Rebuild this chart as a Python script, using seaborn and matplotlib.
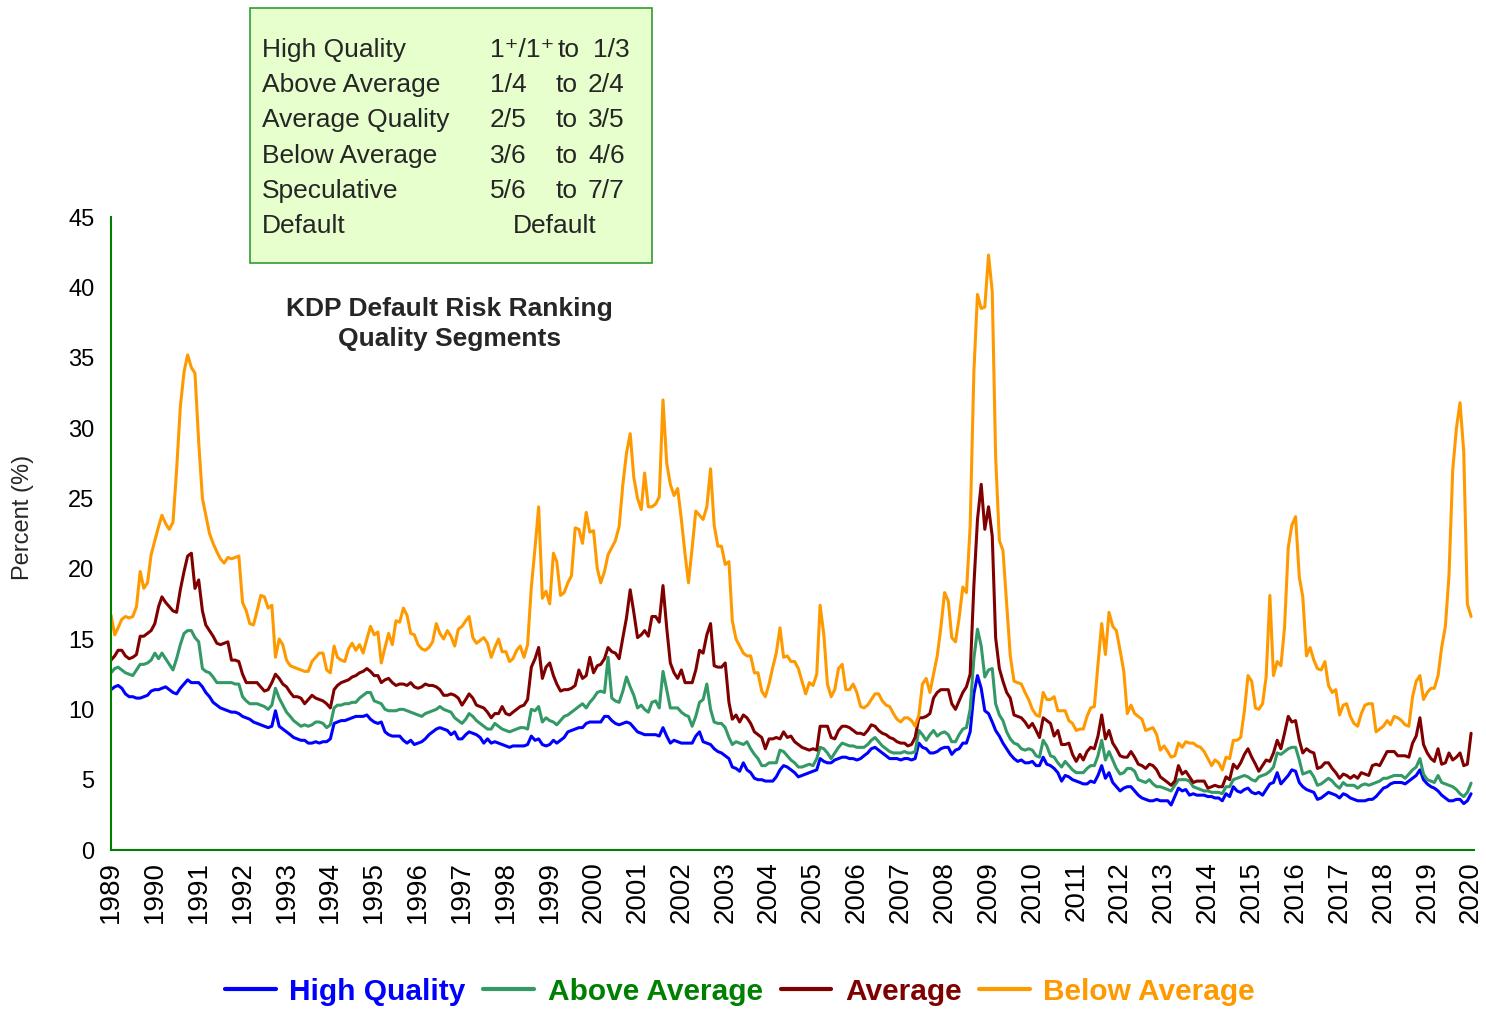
import pandas as pd
import seaborn as sns
import matplotlib.pyplot as plt
import matplotlib.dates as mdates
from matplotlib.lines import Line2D
from matplotlib.patches import Rectangle

# monthly default rates (%), Jan 1989 .. Jan 2020, one row per year
high_quality = [
    11.4, 11.6, 11.7, 11.5, 11.1, 10.9, 10.9, 10.8, 10.8, 10.9, 11.0, 11.3,
    11.4, 11.4, 11.5, 11.6, 11.4, 11.2, 11.1, 11.5, 11.8, 12.1, 11.9, 11.9,
    11.9, 11.6, 11.2, 10.9, 10.5, 10.3, 10.1, 10.0, 9.9, 9.8, 9.8, 9.7,
    9.5, 9.4, 9.3, 9.1, 9.0, 8.9, 8.8, 8.7, 8.8, 9.9, 8.8, 8.6,
    8.4, 8.2, 8.0, 7.9, 7.8, 7.8, 7.6, 7.6, 7.7, 7.6, 7.7, 7.7,
    7.9, 9.0, 9.1, 9.2, 9.2, 9.3, 9.4, 9.5, 9.5, 9.5, 9.6, 9.3,
    9.1, 9.0, 9.1, 8.4, 8.2, 8.1, 8.1, 8.1, 7.8, 7.6, 7.8, 7.5,
    7.6, 7.7, 7.9, 8.2, 8.4, 8.6, 8.7, 8.6, 8.5, 8.2, 8.4, 7.9,
    7.9, 8.2, 8.4, 8.3, 8.2, 8.0, 7.6, 7.9, 7.6, 7.7, 7.6, 7.5,
    7.4, 7.3, 7.4, 7.4, 7.4, 7.4, 7.5, 8.1, 7.8, 7.9, 7.5, 7.4,
    7.5, 7.8, 7.6, 7.8, 8.0, 8.4, 8.5, 8.6, 8.7, 8.7, 9.0, 9.1,
    9.1, 9.1, 9.1, 9.5, 9.5, 9.2, 9.0, 8.9, 9.0, 9.1, 9.0, 8.7,
    8.4, 8.3, 8.2, 8.2, 8.2, 8.2, 8.1, 8.7, 8.1, 7.6, 7.8, 7.7,
    7.6, 7.6, 7.6, 7.6, 8.1, 8.4, 7.7, 7.6, 7.5, 7.2, 7.0, 6.9,
    6.7, 6.5, 5.9, 5.8, 5.6, 6.2, 5.7, 5.5, 5.1, 5.0, 5.0, 4.9,
    4.9, 4.9, 5.2, 5.7, 6.0, 5.9, 5.7, 5.5, 5.2, 5.3, 5.4, 5.5,
    5.6, 5.7, 6.5, 6.3, 6.2, 6.2, 6.4, 6.5, 6.6, 6.6, 6.5, 6.5,
    6.4, 6.5, 6.7, 6.9, 7.2, 7.3, 7.1, 6.9, 6.7, 6.5, 6.5, 6.5,
    6.4, 6.5, 6.5, 6.4, 6.5, 7.6, 7.3, 7.2, 6.9, 6.9, 7.0, 7.2,
    7.3, 7.3, 6.8, 7.1, 7.2, 7.6, 7.6, 8.4, 11.1, 12.4, 11.5, 9.9,
    9.7, 9.1, 8.5, 8.1, 7.6, 7.2, 6.8, 6.5, 6.3, 6.4, 6.2, 6.2,
    6.3, 6.0, 6.0, 6.6, 6.1, 6.0, 5.8, 5.5, 4.9, 5.3, 5.2, 5.0,
    4.9, 4.8, 4.7, 4.7, 4.9, 4.8, 5.3, 6.0, 5.1, 5.5, 4.8, 4.5,
    4.2, 4.4, 4.5, 4.5, 4.2, 3.9, 3.7, 3.6, 3.5, 3.5, 3.6, 3.5,
    3.5, 3.5, 3.2, 3.8, 4.4, 4.2, 4.3, 3.9, 4.0, 3.9, 3.9, 3.9,
    3.8, 3.8, 3.7, 3.7, 3.5, 4.0, 3.8, 4.5, 4.2, 4.1, 4.3, 4.4,
    4.1, 4.0, 4.1, 3.9, 4.3, 4.7, 4.8, 5.5, 4.7, 5.0, 5.3, 5.7,
    5.6, 4.8, 4.5, 4.3, 4.2, 4.1, 3.6, 3.7, 3.9, 4.1, 4.0, 3.9,
    3.7, 4.0, 3.9, 3.7, 3.6, 3.5, 3.5, 3.5, 3.6, 3.6, 3.8, 4.1,
    4.4, 4.5, 4.7, 4.8, 4.8, 4.8, 4.7, 4.9, 5.1, 5.3, 5.7, 5.0,
    4.7, 4.5, 4.4, 4.2, 3.9, 3.7, 3.5, 3.5, 3.6, 3.6, 3.3, 3.5,
    4.0,
]

above_average = [
    12.6, 12.9, 13.0, 12.8, 12.6, 12.5, 12.4, 12.8, 13.2, 13.2, 13.3, 13.5,
    14.0, 13.6, 14.0, 13.6, 13.2, 12.8, 13.6, 14.6, 15.4, 15.6, 15.6, 15.1,
    14.8, 12.9, 12.7, 12.6, 12.3, 11.9, 11.9, 11.9, 11.9, 11.9, 11.8, 11.8,
    10.9, 10.6, 10.4, 10.4, 10.4, 10.3, 10.2, 10.0, 10.3, 11.5, 10.8, 10.3,
    9.8, 9.5, 9.2, 9.0, 8.8, 8.9, 8.8, 8.9, 9.1, 9.1, 9.0, 8.7,
    8.9, 10.1, 10.3, 10.3, 10.4, 10.4, 10.5, 10.5, 10.8, 11.0, 11.2, 11.2,
    10.6, 10.5, 10.4, 10.0, 9.9, 9.9, 9.9, 10.0, 10.0, 9.9, 9.8, 9.7,
    9.6, 9.5, 9.7, 9.8, 9.9, 10.0, 10.2, 10.0, 9.9, 9.8, 9.4, 9.2,
    9.0, 9.3, 9.7, 9.5, 9.2, 9.0, 8.8, 8.6, 8.6, 9.0, 8.8, 8.6,
    8.5, 8.4, 8.5, 8.6, 8.7, 8.7, 8.6, 10.0, 9.9, 10.2, 9.1, 9.4,
    9.2, 9.1, 8.9, 9.2, 9.5, 9.6, 9.8, 10.0, 10.2, 10.4, 10.1, 10.5,
    10.8, 11.2, 11.3, 11.2, 13.7, 10.8, 10.6, 10.5, 11.3, 12.3, 11.6, 11.0,
    10.1, 10.3, 10.0, 9.8, 10.5, 10.6, 10.1, 12.7, 11.4, 10.1, 10.1, 10.1,
    9.8, 9.6, 9.5, 8.8, 9.5, 10.5, 10.7, 11.8, 10.0, 9.1, 9.0, 9.0,
    8.7, 8.0, 7.5, 7.7, 7.6, 7.5, 7.7, 7.2, 6.8, 6.5, 6.0, 6.0,
    6.2, 6.2, 6.2, 7.1, 7.0, 6.7, 6.4, 6.2, 5.9, 5.9, 6.0, 6.1,
    6.0, 6.5, 7.3, 7.2, 6.9, 6.5, 6.9, 7.3, 7.6, 7.5, 7.4, 7.4,
    7.3, 7.3, 7.3, 7.5, 7.8, 8.0, 7.7, 7.4, 7.2, 7.0, 6.9, 6.9,
    6.9, 7.0, 6.9, 6.9, 7.0, 8.5, 8.2, 7.8, 8.2, 8.5, 8.1, 8.3,
    8.4, 8.2, 7.7, 7.7, 8.2, 8.6, 8.7, 10.0, 13.6, 15.7, 14.5, 12.3,
    12.8, 12.9, 10.4, 9.6, 9.2, 8.4, 7.9, 7.6, 7.5, 7.2, 7.1, 7.2,
    7.1, 6.7, 6.6, 7.8, 7.4, 6.7, 6.6, 6.2, 5.9, 6.3, 6.0, 5.7,
    5.5, 5.5, 5.5, 5.8, 6.0, 6.0, 6.7, 7.8, 6.4, 7.0, 6.4, 5.8,
    5.4, 5.5, 5.8, 5.8, 5.6, 5.0, 4.9, 4.8, 5.0, 4.7, 4.5, 4.5,
    4.4, 4.3, 4.2, 4.6, 5.0, 5.0, 5.0, 4.9, 4.5, 4.4, 4.3, 4.2,
    4.2, 4.1, 4.1, 4.1, 4.0, 4.5, 4.5, 5.0, 5.1, 5.2, 5.3, 5.2,
    5.0, 4.9, 5.2, 5.3, 5.4, 5.6, 5.9, 6.9, 6.8, 7.0, 7.2, 7.3,
    7.3, 6.4, 5.4, 5.5, 5.6, 5.2, 4.6, 4.7, 4.9, 5.1, 4.9, 4.6,
    4.4, 4.8, 4.6, 4.6, 4.6, 4.4, 4.6, 4.7, 4.6, 4.7, 4.8, 4.9,
    5.1, 5.1, 5.2, 5.3, 5.3, 5.3, 5.1, 5.4, 5.7, 5.9, 6.5, 5.4,
    5.0, 4.9, 4.8, 5.3, 4.8, 4.7, 4.6, 4.5, 4.3, 4.0, 3.8, 4.1,
    4.75,
]

average = [
    13.5, 13.8, 14.2, 14.2, 13.8, 13.6, 13.7, 13.9, 15.2, 15.2, 15.4, 15.6,
    16.1, 17.3, 18.0, 17.6, 17.3, 17.0, 16.9, 18.5, 19.8, 20.9, 21.1, 18.6,
    19.2, 17.0, 16.0, 15.6, 15.2, 14.7, 14.6, 14.7, 14.8, 13.5, 13.5, 13.4,
    12.5, 11.9, 11.9, 11.9, 11.9, 11.6, 11.3, 11.4, 11.9, 12.5, 12.2, 11.8,
    11.6, 11.2, 10.9, 10.9, 10.8, 10.4, 10.7, 11.0, 10.8, 10.7, 10.6, 10.4,
    10.1, 11.4, 11.7, 11.9, 12.0, 12.1, 12.3, 12.4, 12.6, 12.7, 12.9, 12.7,
    12.4, 12.4, 11.9, 12.1, 12.2, 11.9, 11.7, 11.8, 11.8, 11.7, 11.9, 11.6,
    11.5, 11.6, 11.8, 11.7, 11.7, 11.6, 11.4, 11.0, 11.0, 11.1, 11.0, 10.8,
    10.3, 10.7, 11.1, 10.8, 10.3, 10.2, 10.1, 9.8, 9.4, 9.7, 9.7, 10.2,
    9.7, 9.6, 9.8, 10.0, 10.2, 10.3, 10.7, 13.0, 13.6, 14.4, 12.2, 13.0,
    13.3, 12.4, 11.8, 11.3, 11.4, 11.4, 11.5, 11.7, 12.8, 12.2, 12.4, 13.7,
    12.6, 13.1, 13.2, 13.6, 14.4, 14.1, 14.0, 13.6, 15.1, 16.5, 18.5, 16.9,
    15.1, 15.3, 15.6, 15.2, 16.6, 16.6, 16.2, 18.8, 15.8, 13.3, 12.6, 12.2,
    12.8, 11.9, 11.9, 11.9, 12.8, 14.2, 14.0, 15.3, 16.1, 13.1, 13.0, 13.0,
    13.3, 10.5, 9.3, 9.6, 9.1, 9.6, 9.4, 9.0, 8.4, 8.2, 8.0, 7.2,
    7.9, 7.9, 8.0, 7.9, 8.4, 8.0, 8.1, 7.7, 7.5, 7.3, 7.2, 7.1,
    7.2, 7.1, 8.8, 8.8, 8.8, 8.0, 7.9, 8.5, 8.8, 8.8, 8.7, 8.5,
    8.3, 8.3, 8.2, 8.5, 8.9, 8.8, 8.5, 8.3, 8.2, 8.0, 7.9, 7.7,
    7.6, 7.6, 7.4, 7.5, 8.0, 9.4, 9.4, 9.5, 9.7, 10.8, 11.2, 11.4,
    11.4, 11.4, 10.4, 10.0, 10.6, 11.2, 11.6, 12.5, 18.8, 23.5, 26.0, 22.8,
    24.4, 22.3, 15.1, 12.9, 12.0, 11.2, 10.8, 9.6, 9.5, 9.4, 9.1, 8.7,
    9.0, 8.5, 8.0, 9.4, 9.2, 9.0, 8.1, 8.5, 7.5, 7.5, 7.6, 6.8,
    6.3, 6.8, 6.4, 7.0, 7.3, 7.2, 8.1, 9.6, 7.9, 8.5, 7.6, 7.2,
    6.7, 6.6, 6.6, 7.0, 6.6, 6.1, 6.0, 5.8, 6.1, 6.0, 5.7, 5.2,
    5.0, 4.8, 4.6, 4.9, 6.0, 5.4, 5.6, 5.2, 4.8, 4.9, 4.9, 4.9,
    4.4, 4.5, 4.6, 4.5, 4.5, 5.2, 5.0, 6.1, 5.8, 6.2, 6.8, 7.2,
    6.6, 6.1, 5.6, 6.0, 6.4, 6.3, 6.9, 7.8, 7.2, 8.3, 9.5, 9.1,
    9.2, 7.8, 6.9, 7.2, 7.0, 6.9, 5.8, 5.9, 6.2, 6.2, 5.8, 5.5,
    5.1, 5.4, 5.3, 5.1, 5.3, 5.1, 5.5, 5.4, 5.3, 6.0, 6.1, 6.0,
    6.5, 7.0, 7.0, 7.0, 6.7, 6.7, 6.7, 6.6, 7.6, 8.1, 9.4, 7.5,
    6.9, 6.5, 6.3, 7.2, 6.1, 6.2, 6.9, 6.4, 6.6, 6.9, 6.0, 6.1,
    8.3,
]

below_average = [
    16.7, 15.3, 15.8, 16.4, 16.6, 16.5, 16.6, 17.3, 19.8, 18.6, 19.0, 21.0,
    22.0, 23.0, 23.8, 23.2, 22.8, 23.3, 27.0, 31.5, 34.0, 35.2, 34.3, 33.9,
    29.0, 25.0, 23.8, 22.5, 21.8, 21.2, 20.7, 20.4, 20.8, 20.7, 20.8, 20.9,
    17.6, 17.0, 16.1, 16.0, 17.0, 18.1, 18.0, 17.2, 17.4, 13.7, 15.0, 14.6,
    13.5, 13.1, 13.0, 12.9, 12.8, 12.7, 12.7, 13.4, 13.7, 14.0, 14.0, 12.8,
    12.6, 14.5, 13.7, 13.5, 13.4, 14.3, 14.7, 14.2, 14.6, 14.0, 15.0, 15.9,
    15.3, 15.5, 13.3, 14.4, 15.4, 14.6, 16.3, 16.2, 17.2, 16.7, 15.4, 15.3,
    14.6, 14.3, 14.2, 14.4, 14.8, 16.1, 15.4, 15.0, 15.6, 15.2, 14.5, 15.7,
    15.9, 16.3, 16.6, 15.1, 14.7, 14.9, 15.1, 14.7, 13.7, 14.4, 15.0, 14.1,
    14.1, 13.4, 13.6, 14.2, 14.5, 13.7, 14.6, 18.7, 21.5, 24.4, 17.9, 18.4,
    17.5, 21.1, 20.5, 18.1, 18.3, 19.0, 19.5, 22.9, 22.8, 21.8, 24.0, 22.6,
    22.7, 20.0, 19.0, 19.8, 21.0, 21.5, 22.0, 23.0, 26.0, 28.2, 29.6, 26.5,
    25.0, 24.2, 26.8, 24.4, 24.4, 24.6, 25.1, 32.0, 27.5, 26.0, 25.2, 25.7,
    23.5, 21.0, 19.0, 21.5, 24.1, 23.8, 23.5, 24.4, 27.1, 23.1, 21.6, 21.6,
    20.3, 20.5, 16.3, 15.0, 14.5, 14.0, 13.8, 13.8, 12.6, 12.6, 11.3, 10.9,
    11.8, 13.0, 14.0, 15.8, 13.7, 13.8, 13.4, 13.4, 12.9, 12.0, 11.1, 11.9,
    11.7, 12.5, 17.4, 15.3, 11.8, 10.9, 11.4, 12.9, 13.2, 11.4, 11.4, 11.8,
    11.2, 10.2, 10.1, 10.3, 10.7, 11.1, 11.1, 10.6, 10.3, 10.2, 9.7, 9.3,
    9.1, 9.4, 9.4, 9.2, 8.8, 9.6, 11.8, 12.2, 11.2, 12.5, 13.8, 15.8,
    18.3, 17.7, 15.1, 14.8, 16.5, 18.7, 18.3, 23.0, 34.0, 39.5, 38.5, 38.6,
    42.3, 39.7, 28.0, 22.0, 21.3, 17.5, 13.8, 12.0, 11.9, 11.8, 11.2, 10.7,
    10.0, 9.6, 9.5, 11.2, 10.7, 10.7, 10.9, 9.9, 9.9, 9.9, 9.2, 9.0,
    8.5, 8.6, 8.6, 9.5, 10.1, 10.2, 13.2, 16.1, 13.9, 16.9, 15.9, 15.6,
    14.2, 12.7, 9.7, 10.3, 9.7, 9.5, 9.3, 8.5, 8.6, 8.7, 8.2, 7.1,
    7.4, 7.0, 6.6, 6.7, 7.6, 7.3, 7.7, 7.6, 7.6, 7.4, 7.3, 7.0,
    6.5, 6.0, 6.4, 6.2, 5.7, 6.6, 6.5, 7.8, 7.8, 8.0, 9.9, 12.4,
    12.0, 10.1, 10.0, 10.4, 12.3, 18.1, 12.4, 13.4, 13.1, 15.8, 21.5, 23.1,
    23.7, 19.4, 18.0, 13.8, 14.4, 13.5, 12.9, 12.8, 13.4, 11.7, 11.2, 11.4,
    9.6, 10.3, 10.4, 9.5, 9.0, 8.8, 9.7, 10.3, 10.4, 10.4, 8.4, 8.6,
    8.8, 9.2, 8.9, 9.5, 9.4, 9.2, 8.9, 8.8, 10.9, 12.0, 12.4, 10.7,
    11.2, 11.5, 11.5, 12.4, 14.4, 15.9, 19.5, 27.0, 30.0, 31.8, 28.3, 17.5,
    16.6,
]

segments = ['High Quality', 'Above Average', 'Average', 'Below Average']
line_colors = ['#0000FF', '#339966', '#800000', '#FF9900']
text_colors = ['#0000FF', '#008000', '#800000', '#FF9900']

# rating bands shown in the box
band_names = ['High Quality', 'Above Average', 'Average Quality',
              'Below Average', 'Speculative', 'Default']
band_low = ['1\u207a/1\u207a', '1/4', '2/5', '3/6', '5/6']
band_high = ['1/3', '2/4', '3/5', '4/6', '7/7']

dates = pd.date_range('1989-01-01', periods=len(high_quality), freq='MS')
wide = pd.DataFrame({'Date': dates,
                     'High Quality': high_quality,
                     'Above Average': above_average,
                     'Average': average,
                     'Below Average': below_average})
df = wide.melt(id_vars='Date', var_name='Segment', value_name='Percent')

sns.set_style('white')
plt.rcParams['font.family'] = ['Liberation Sans', 'DejaVu Sans']

fig = plt.figure(figsize=(14.86, 10.10), dpi=100)
ax = fig.add_axes([0.0747, 0.1584, 0.9172, 0.6267])

sns.lineplot(data=df, x='Date', y='Percent', hue='Segment', hue_order=segments,
             palette=dict(zip(segments, line_colors)), linewidth=2.2,
             legend=False, ax=ax)

ax.set_xlim(pd.Timestamp('1989-01-01'), pd.Timestamp('2020-01-25'))
ax.set_ylim(0, 45)
ax.set_yticks(range(0, 46, 5))
ax.xaxis.set_major_locator(mdates.YearLocator())
ax.xaxis.set_major_formatter(mdates.DateFormatter('%Y'))
plt.setp(ax.get_xticklabels(), rotation=90)

sns.despine(ax=ax)
for side in ['left', 'bottom']:
    ax.spines[side].set_color('#008000')
    ax.spines[side].set_linewidth(1.5)
ax.tick_params(axis='both', direction='out', color='#008000', labelcolor='black',
               length=6, width=1.5)
ax.tick_params(axis='y', labelsize=17, pad=6)
ax.tick_params(axis='x', labelsize=20, pad=2)

ax.set_xlabel('')
ax.set_ylabel('Percent (%)', fontsize=17)
ax.yaxis.set_label_coords(-0.0565, 0.526)

ax.text(0.3025, 0.679, 'KDP Default Risk Ranking\nQuality Segments',
        transform=fig.transFigure, ha='center', va='center',
        fontsize=19, fontweight='bold', linespacing=1.3)

# rating band box
fig.patches.append(Rectangle((0.1682, 0.7396), 0.2705, 0.2525,
                             transform=fig.transFigure, facecolor='#E6FFCC',
                             edgecolor='#339933', linewidth=1.2))
row_y = [50, 85, 120, 156, 191, 226]
for i, name in enumerate(band_names):
    y = 1 - row_y[i] / 1010
    fig.text(0.1763, y, name, fontsize=19, va='center', ha='left')
    if i < len(band_low):
        fig.text(0.3297, y, band_low[i], fontsize=19, va='center', ha='left')
        fig.text(0.3742 if i else 0.3755, y, 'to', fontsize=19, va='center', ha='left')
        fig.text(0.3957 if i else 0.3990, y, band_high[i], fontsize=19, va='center', ha='left')
    else:
        fig.text(0.3735, y, 'Default', fontsize=19, va='center', ha='center')

handles = [Line2D([], [], color=c, linewidth=3) for c in line_colors]
leg = fig.legend(handles, segments, loc='center', bbox_to_anchor=(0.498, 0.018),
                 ncol=4, frameon=False, handlelength=1.7, handletextpad=0.45,
                 columnspacing=0.6, prop={'weight': 'bold', 'size': 21.5})
for txt, c in zip(leg.get_texts(), text_colors):
    txt.set_color(c)

plt.savefig('out.png', dpi=100)
